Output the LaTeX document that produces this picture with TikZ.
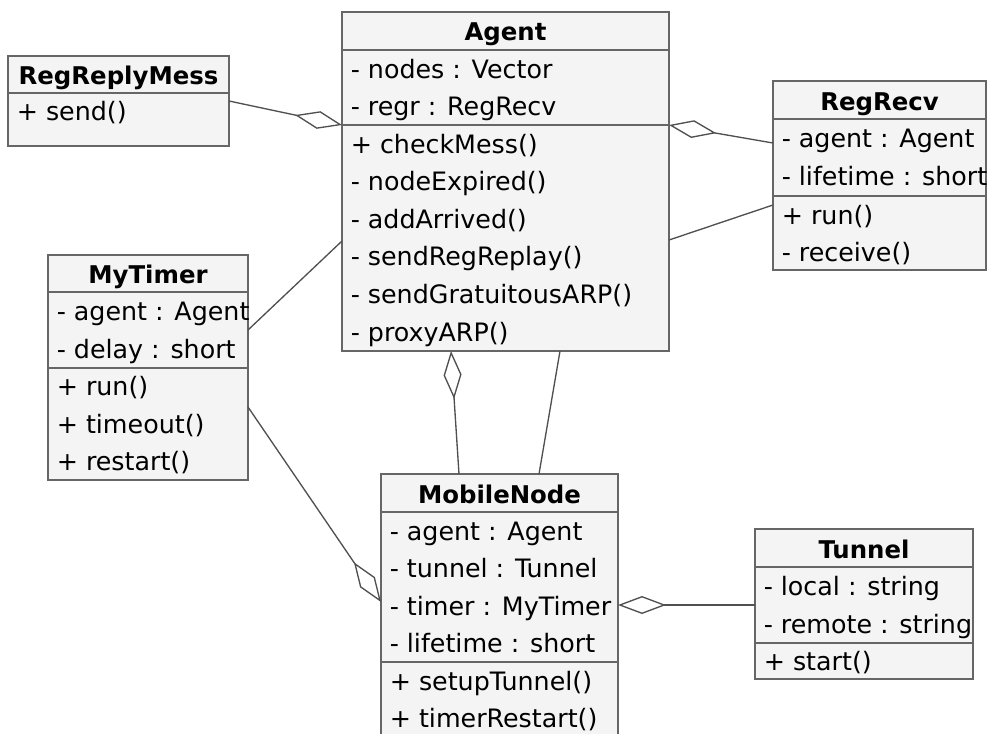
\documentclass[tikz,border=0pt]{standalone}
\usepackage{fontspec}
\setmainfont{DejaVu Sans}
\usetikzlibrary{arrows.meta}
\definecolor{boxfill}{HTML}{F4F4F4}
\definecolor{boxline}{HTML}{666666}
\definecolor{wirecol}{HTML}{505050}
\def\u{0.75pt}
\tikzset{
  classbox/.style={draw=boxline, line width=1.5pt, fill=boxfill, inner sep=0pt, outer sep=0pt, anchor=north west},
  sepline/.style={draw=boxline, line width=1.5pt},
  member/.style={anchor=west, inner sep=0pt, xshift=8.5*\u,
    font=\fontsize{19}{19}\selectfont, text height=13.9pt, text depth=0pt},
  classname/.style={inner sep=0pt, font=\fontsize{18.3}{18.3}\selectfont\bfseries,
    text height=13.4pt, text depth=0pt},
  wire/.style={draw=wirecol, line width=1pt},
  aggend/.style={-{Diamond[fill=white, length=36pt, width=13.5pt]}},
  aggstart/.style={{Diamond[fill=white, length=36pt, width=13.5pt]}-},
}
\begin{document}
\begin{tikzpicture}[x=0.75pt, y=-0.75pt]
\useasboundingbox (0,0) rectangle (989,733);

% ---------- RegReplyMess ----------
\node[classbox, minimum width=221*\u, minimum height=90*\u] (regreply) at (8,56) {};
\draw[sepline] (regreply.west |- 0,93) -- (regreply.east |- 0,93);
\node[classname] (regreply-name) at (regreply.north |- 0,76) {RegReplyMess};
\node[member] (regreply-m1) at (regreply.west |- 0,111) {+ send()};

% ---------- Agent ----------
\node[classbox, minimum width=327*\u, minimum height=339*\u] (agent) at (342,12) {};
\draw[sepline] (agent.west |- 0,50) -- (agent.east |- 0,50);
\draw[sepline] (agent.west |- 0,125) -- (agent.east |- 0,125);
\node[classname] (agent-name) at (agent.north |- 0,32) {Agent};
\node[member] (agent-a1) at (agent.west |- 0,68.8) {- nodes : Vector};
\node[member] (agent-a2) at (agent.west |- 0,106.3) {- regr : RegRecv};
\node[member] (agent-m1) at (agent.west |- 0,143.8) {+ checkMess()};
\node[member] (agent-m2) at (agent.west |- 0,181.4) {- nodeExpired()};
\node[member] (agent-m3) at (agent.west |- 0,219) {- addArrived()};
\node[member] (agent-m4) at (agent.west |- 0,256.6) {- sendRegReplay()};
\node[member] (agent-m5) at (agent.west |- 0,294.2) {- sendGratuitousARP()};
\node[member] (agent-m6) at (agent.west |- 0,331.8) {- proxyARP()};

% ---------- RegRecv ----------
\node[classbox, minimum width=213*\u, minimum height=189*\u] (regrecv) at (773,81) {};
\draw[sepline] (regrecv.west |- 0,119) -- (regrecv.east |- 0,119);
\draw[sepline] (regrecv.west |- 0,196) -- (regrecv.east |- 0,196);
\node[classname] (regrecv-name) at (regrecv.north |- 0,101.5) {RegRecv};
\node[member] (regrecv-a1) at (regrecv.west |- 0,138.2) {- agent : Agent};
\node[member] (regrecv-a2) at (regrecv.west |- 0,176.7) {- lifetime : short};
\node[member] (regrecv-m1) at (regrecv.west |- 0,214.8) {+ run()};
\node[member] (regrecv-m2) at (regrecv.west |- 0,252.4) {- receive()};

% ---------- MyTimer ----------
\node[classbox, minimum width=200*\u, minimum height=225*\u] (mytimer) at (48,255) {};
\draw[sepline] (mytimer.west |- 0,292) -- (mytimer.east |- 0,292);
\draw[sepline] (mytimer.west |- 0,368) -- (mytimer.east |- 0,368);
\node[classname] (mytimer-name) at (mytimer.north |- 0,274.5) {MyTimer};
\node[member] (mytimer-a1) at (mytimer.west |- 0,311) {- agent : Agent};
\node[member] (mytimer-a2) at (mytimer.west |- 0,349) {- delay : short};
\node[member] (mytimer-m1) at (mytimer.west |- 0,386.7) {+ run()};
\node[member] (mytimer-m2) at (mytimer.west |- 0,424) {+ timeout()};
\node[member] (mytimer-m3) at (mytimer.west |- 0,461.3) {+ restart()};

% ---------- MobileNode ----------
\node[classbox, minimum width=237*\u, minimum height=263*\u] (mobile) at (381,474) {};
\draw[sepline] (mobile.west |- 0,512) -- (mobile.east |- 0,512);
\draw[sepline] (mobile.west |- 0,662) -- (mobile.east |- 0,662);
\node[classname] (mobile-name) at (mobile.north |- 0,494.5) {MobileNode};
\node[member] (mobile-a1) at (mobile.west |- 0,530.8) {- agent : Agent};
\node[member] (mobile-a2) at (mobile.west |- 0,568.3) {- tunnel : Tunnel};
\node[member] (mobile-a3) at (mobile.west |- 0,605.8) {- timer : MyTimer};
\node[member] (mobile-a4) at (mobile.west |- 0,643.3) {- lifetime : short};
\node[member] (mobile-m1) at (mobile.west |- 0,681) {+ setupTunnel()};
\node[member] (mobile-m2) at (mobile.west |- 0,718.5) {+ timerRestart()};

% ---------- Tunnel ----------
\node[classbox, minimum width=218*\u, minimum height=150*\u] (tunnel) at (755,529) {};
\draw[sepline] (tunnel.west |- 0,567) -- (tunnel.east |- 0,567);
\draw[sepline] (tunnel.west |- 0,643) -- (tunnel.east |- 0,643);
\node[classname] (tunnel-name) at (tunnel.north |- 0,549.5) {Tunnel};
\node[member] (tunnel-a1) at (tunnel.west |- 0,586) {- local : string};
\node[member] (tunnel-a2) at (tunnel.west |- 0,624) {- remote : string};
\node[member] (tunnel-m1) at (tunnel.west |- 0,661) {+ start()};

% ---------- connectors ----------
\draw[wire, aggend] (regreply.east |- 0,101) -- (agent.west |- 0,125);
\draw[wire, aggstart] (agent.east |- 0,125) -- (regrecv.west |- 0,143);
\draw[wire] (agent.east |- 0,240) -- (regrecv.west |- 0,205);
\draw[wire] (mytimer.east |- 0,330) -- (agent.west |- 0,241);
\draw[wire, aggend] (mytimer.east |- 0,407) -- (mobile.west |- 0,602);
\draw[wire, aggstart] (agent.south -| 451,0) -- (mobile.north -| 459,0);
\draw[wire] (agent.south -| 560,0) -- (mobile.north -| 539,0);
\draw[wire, aggstart] (mobile.east |- 0,605) -- (tunnel.west |- 0,605);
\end{tikzpicture}
\end{document}
